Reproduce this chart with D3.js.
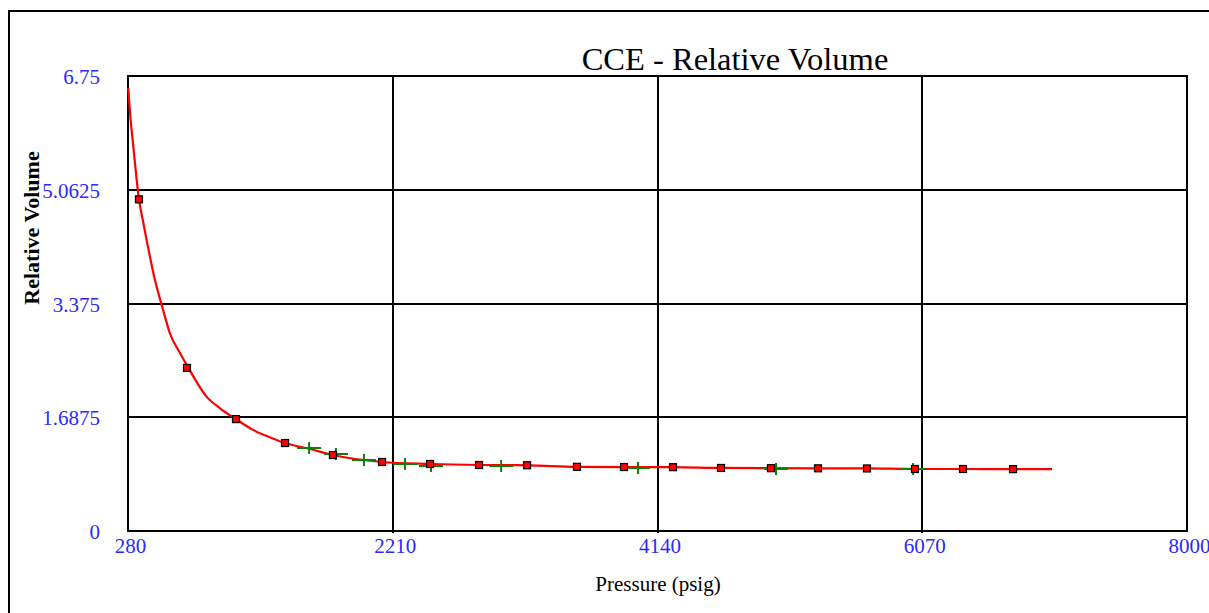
<!DOCTYPE html>
<html>
<head>
<meta charset="utf-8">
<script src="https://cdn.jsdelivr.net/npm/d3@7"></script>
<style>
  html, body { margin: 0; padding: 0; background: #fff; overflow: hidden; }
  svg { display: block; }
  text { font-family: "Liberation Serif", "Times New Roman", serif; }
</style>
</head>
<body>
<svg id="chart" width="1209" height="613"></svg>
<script>
// Tick positions on both axes
const xTicks = [280, 2210, 4140, 6070, 8000];
const yTicks = [0, 1.6875, 3.375, 5.0625, 6.75];

// Calculated relative volume curve (pressure psig, relative volume)
const curvePressure = [282, 295, 319, 360, 392, 477, 533, 586, 659, 720, 854, 951, 1067,
  1191, 1315, 1425, 1600, 1774, 2132, 2482, 2839, 3189, 3553, 3896, 4253, 4603, 4967, 5310, 5667,
  6017, 6367, 6732, 7016];
const curveVolume = [6.57, 6.20, 5.70, 4.92, 4.57, 3.72, 3.30, 2.93, 2.64, 2.42, 1.99, 1.82, 1.66,
  1.50, 1.39, 1.305, 1.22, 1.127, 1.024, 0.994, 0.979, 0.975, 0.952, 0.949, 0.947, 0.935, 0.932, 0.93, 0.928,
  0.92, 0.92, 0.918, 0.918];

// Calculated points shown as squares
const calcPressure = [360, 710, 1067, 1425, 1774, 2132, 2482, 2839, 3189, 3553, 3896, 4253, 4603, 4967,
  5310, 5667, 6017, 6367, 6732];
const calcVolume = [4.92, 2.42, 1.66, 1.305, 1.127, 1.024, 0.994, 0.979, 0.975, 0.952, 0.949, 0.947, 0.935,
  0.932, 0.93, 0.928, 0.92, 0.92, 0.918];

// Measured points shown as crosses
const expPressure = [1600, 1796, 2000, 2299, 2489, 3000, 3998, 5004, 6003];
const expVolume = [1.231, 1.142, 1.053, 0.994, 0.964, 0.964, 0.935, 0.92, 0.918];

const svg = d3.select("#chart");
const plot = { left: 128, right: 1187, top: 76, bottom: 531 };

const x = d3.scaleLinear().domain([280, 8000]).range([plot.left, plot.right]);
const y = d3.scaleLinear().domain([0, 6.75]).range([plot.bottom, plot.top]);

// Outer frame
svg.append("rect")
  .attr("x", 9).attr("y", 11).attr("width", 1400).attr("height", 800)
  .attr("fill", "#fff").attr("stroke", "#000").attr("stroke-width", 2);

// Title
svg.append("text")
  .attr("x", 735).attr("y", 70)
  .attr("text-anchor", "middle")
  .attr("font-size", 32.5)
  .attr("fill", "#000")
  .text("CCE - Relative Volume");

// Grid lines
const grid = svg.append("g").attr("stroke", "#000").attr("stroke-width", 2);
grid.selectAll("line.v").data(xTicks.slice(1, -1)).join("line")
  .attr("class", "v")
  .attr("x1", d => Math.round(x(d))).attr("x2", d => Math.round(x(d)))
  .attr("y1", plot.top).attr("y2", plot.bottom + 2);
grid.selectAll("line.h").data(yTicks.slice(1, -1)).join("line")
  .attr("class", "h")
  .attr("x1", plot.left).attr("x2", plot.right)
  .attr("y1", d => Math.round(y(d))).attr("y2", d => Math.round(y(d)));

// Plot border
svg.append("rect")
  .attr("x", plot.left).attr("y", plot.top)
  .attr("width", plot.right - plot.left).attr("height", plot.bottom - plot.top)
  .attr("fill", "none").attr("stroke", "#000").attr("stroke-width", 2);

// Axes (labels only)
const xAxis = d3.axisBottom(x).tickValues(xTicks).tickSize(0).tickPadding(0).tickFormat(d3.format("d"));
const gx = svg.append("g").attr("transform", `translate(0,${plot.bottom})`).call(xAxis);
gx.select(".domain").remove();
gx.selectAll("text")
  .attr("font-family", "Liberation Serif, serif").attr("font-size", 21)
  .attr("fill", "#2a2aff").attr("dy", null).attr("y", 22).attr("dx", 2);

const yAxis = d3.axisLeft(y).tickValues(yTicks).tickSize(0).tickPadding(0).tickFormat(d => String(d));
const gy = svg.append("g").attr("transform", `translate(${plot.left},0)`).call(yAxis);
gy.select(".domain").remove();
gy.selectAll("text")
  .attr("font-family", "Liberation Serif, serif").attr("font-size", 21)
  .attr("fill", "#2a2aff").attr("x", -28).attr("dy", "0.36em");

// Axis titles
svg.append("text")
  .attr("x", 658).attr("y", 591)
  .attr("text-anchor", "middle").attr("font-size", 21).attr("fill", "#000")
  .text("Pressure (psig)");
svg.append("text")
  .attr("transform", "translate(39,228) rotate(-90)")
  .attr("text-anchor", "middle").attr("font-size", 22).attr("font-weight", "bold").attr("fill", "#000")
  .text("Relative Volume");

// Calculated curve
const curve = curvePressure.map((p, i) => [p, curveVolume[i]]);
svg.append("path")
  .datum(curve)
  .attr("fill", "none").attr("stroke", "#ff0000").attr("stroke-width", 2.2)
  .attr("d", d3.line().curve(d3.curveMonotoneX).x(d => x(d[0])).y(d => y(d[1])));

// Measured crosses
const exp = expPressure.map((p, i) => [p, expVolume[i]]);
const cross = svg.append("g").attr("stroke", "#0a820a").attr("stroke-width", 2);
cross.selectAll("path").data(exp).join("path")
  .attr("d", d => {
    const cx = x(d[0]), cy = y(d[1]);
    return `M${cx - 12},${cy}H${cx + 12}M${cx},${cy - 6}V${cy + 6}`;
  });

// Calculated squares
const calc = calcPressure.map((p, i) => [p, calcVolume[i]]);
svg.append("g").selectAll("rect").data(calc).join("rect")
  .attr("x", d => x(d[0]) - 3.5).attr("y", d => y(d[1]) - 3.5)
  .attr("width", 7).attr("height", 7)
  .attr("fill", "#ff0000").attr("stroke", "#000").attr("stroke-width", 1.2);
</script>
</body>
</html>
